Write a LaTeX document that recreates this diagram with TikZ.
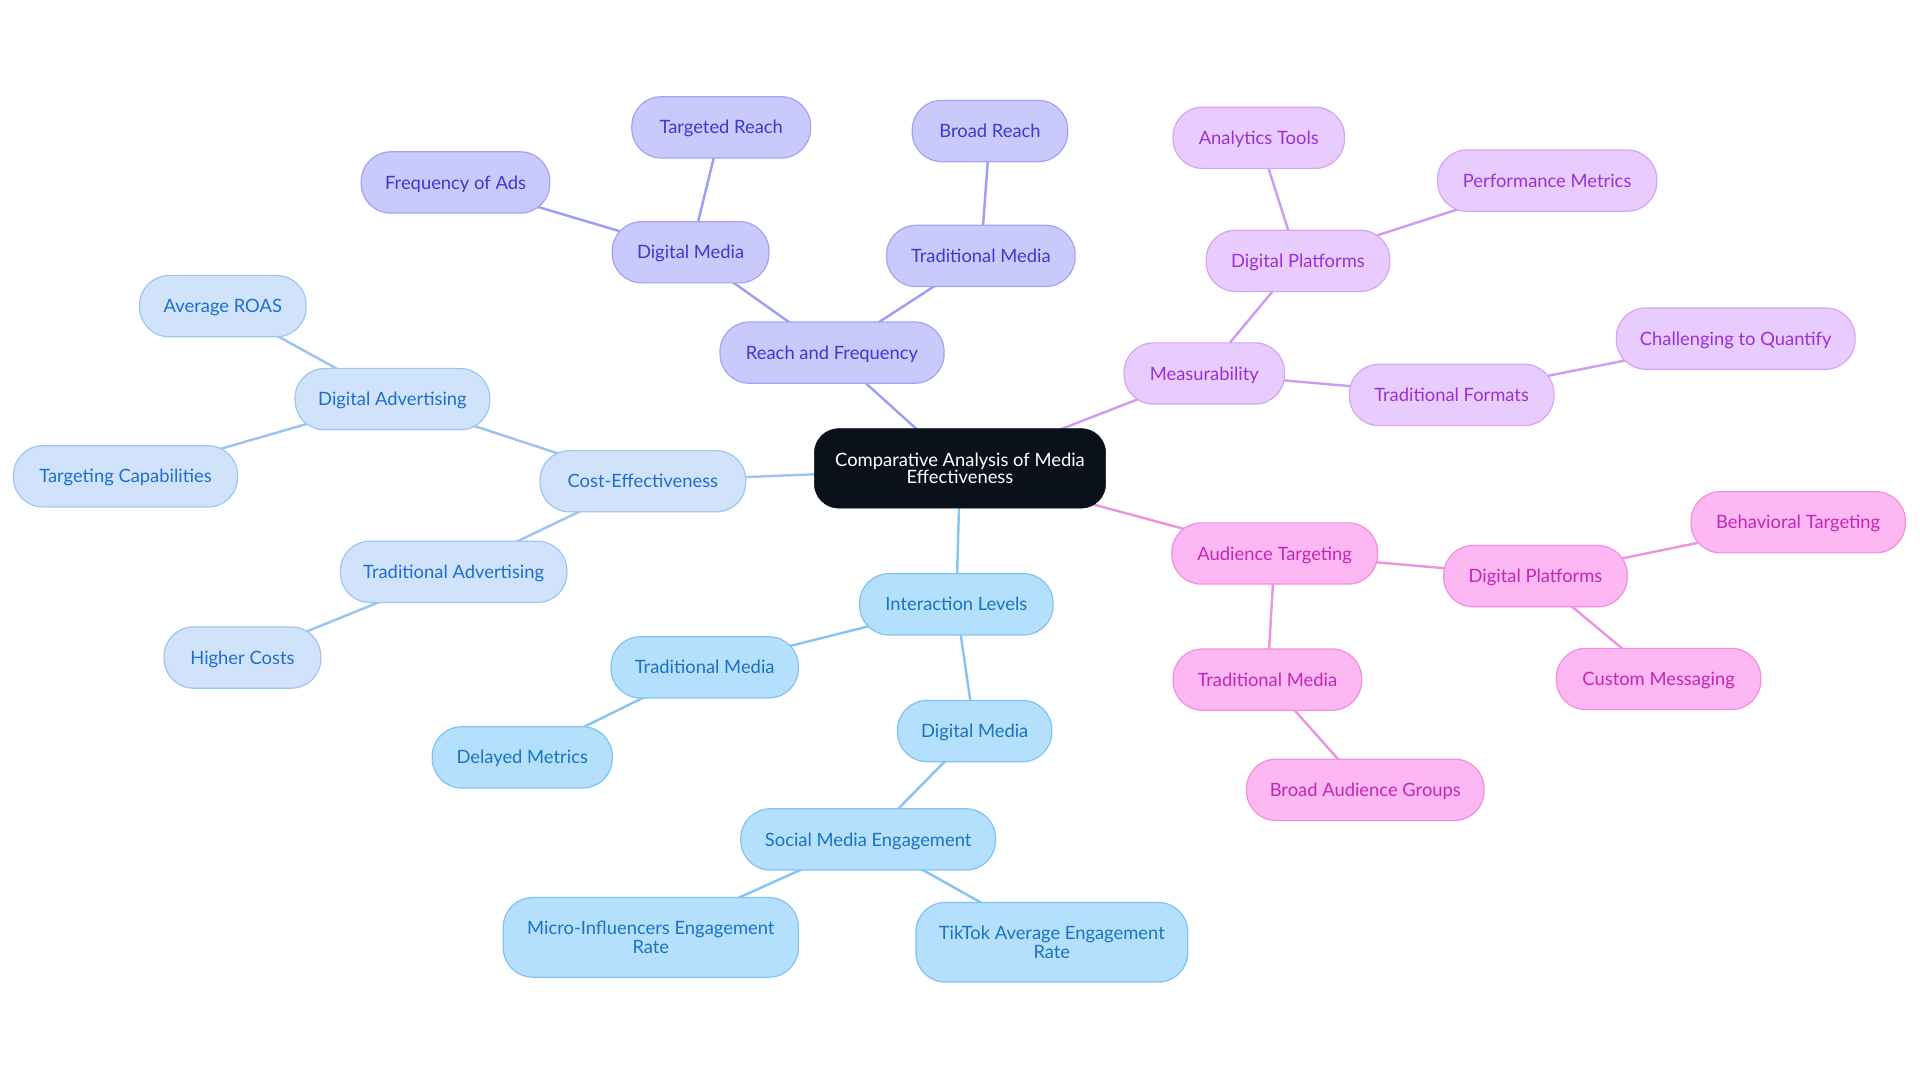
\documentclass[tikz,border=0pt]{standalone}
\usepackage{fontspec}
\setmainfont{Lato}
\usetikzlibrary{backgrounds}
\definecolor{rfFill}{HTML}{C9C9FC}\definecolor{rfDraw}{HTML}{A3A4F5}\definecolor{rfText}{HTML}{3B3BCE}\definecolor{rfEdge}{HTML}{9D9FF3}
\definecolor{msFill}{HTML}{E8CCFD}\definecolor{msDraw}{HTML}{D5A6F5}\definecolor{msText}{HTML}{9B30D9}\definecolor{msEdge}{HTML}{CF9CF1}
\definecolor{atFill}{HTML}{FDB8F3}\definecolor{atDraw}{HTML}{F190E0}\definecolor{atText}{HTML}{C525B7}\definecolor{atEdge}{HTML}{F093DF}
\definecolor{ilFill}{HTML}{B4DFFD}\definecolor{ilDraw}{HTML}{82C3F3}\definecolor{ilText}{HTML}{1B73C1}\definecolor{ilEdge}{HTML}{85C4F3}
\definecolor{ceFill}{HTML}{D0E3FB}\definecolor{ceDraw}{HTML}{A0C6F2}\definecolor{ceText}{HTML}{1F6ECF}\definecolor{ceEdge}{HTML}{9DC3EF}
\definecolor{ctFill}{HTML}{0B111A}
\tikzset{
  pillbase/.style={rectangle, rounded corners=24pt, line width=1pt, minimum height=50pt, inner sep=0pt, align=center,
    font=\fontsize{15}{15}\selectfont},
  pill/.style={pillbase, text height=10.8pt, text depth=0pt},
  rfN/.style={pill, fill=rfFill, draw=rfDraw, text=rfText},
  msN/.style={pill, fill=msFill, draw=msDraw, text=msText},
  audN/.style={pill, fill=atFill, draw=atDraw, text=atText},
  ilN/.style={pill, fill=ilFill, draw=ilDraw, text=ilText},
  ilTwo/.style={pillbase, fill=ilFill, draw=ilDraw, text=ilText, minimum height=65pt},
  ceN/.style={pill, fill=ceFill, draw=ceDraw, text=ceText},
  ctrN/.style={rectangle, rounded corners=20pt, fill=ctFill, draw=ctFill, text=white, minimum width=238pt, minimum height=65pt,
    inner sep=0pt, align=center, font=\fontsize{15}{14.5}\selectfont},
  rfE/.style={draw=rfEdge, line width=2pt},
  msE/.style={draw=msEdge, line width=2pt},
  audE/.style={draw=atEdge, line width=2pt},
  ilE/.style={draw=ilEdge, line width=2pt},
  ceE/.style={draw=ceEdge, line width=2pt},
}
\begin{document}
\begin{tikzpicture}[x=1pt,y=-1pt]
\useasboundingbox (0,0) rectangle (1568,884.45);
% center
\node[ctrN] (c) at (784,382.5) {Comparative Analysis of Media\\Effectiveness};
% reach and frequency
\node[rfN, minimum width=183pt] (rf) at (679.5,288) {Reach and Frequency};
\node[rfN, minimum width=128pt] (rfdm) at (564,206) {Digital Media};
\node[rfN, minimum width=154pt] (rftm) at (801,209) {Traditional Media};
\node[rfN, minimum width=146pt] (rftr) at (589,104) {Targeted Reach};
\node[rfN, minimum width=154pt] (rffa) at (372,149) {Frequency of Ads};
\node[rfN, minimum width=127pt] (rfbr) at (808.5,107) {Broad Reach};
% measurability
\node[msN, minimum width=131pt] (ms) at (983.5,305) {Measurability};
\node[msN, minimum width=150pt] (msdp) at (1060,213) {Digital Platforms};
\node[msN, minimum width=140pt] (msat) at (1028,112.5) {Analytics Tools};
\node[msN, minimum width=179pt] (mspm) at (1263.5,147.5) {Performance Metrics};
\node[msN, minimum width=167pt] (mstf) at (1185.5,322.5) {Traditional Formats};
\node[msN, minimum width=195pt] (mscq) at (1417.5,276.5) {Challenging to Quantify};
% audience targeting
\node[audN, minimum width=168pt] (aud) at (1041,452) {Audience Targeting};
\node[audN, minimum width=150pt] (auddp) at (1254,470.5) {Digital Platforms};
\node[audN, minimum width=175pt] (audbt) at (1468.5,426.5) {Behavioral Targeting};
\node[audN, minimum width=167pt] (audcm) at (1354.5,554.5) {Custom Messaging};
\node[audN, minimum width=154pt] (audtm) at (1035,555) {Traditional Media};
\node[audN, minimum width=194pt] (audba) at (1115,645) {Broad Audience Groups};
% interaction levels
\node[ilN, minimum width=158pt] (il) at (781,493.5) {Interaction Levels};
\node[ilN, minimum width=153pt] (iltm) at (575.5,545) {Traditional Media};
\node[ilN, minimum width=147pt] (ildm2) at (426.5,618.5) {Delayed Metrics};
\node[ilN, minimum width=126pt] (ildm) at (796,597) {Digital Media};
\node[ilN, minimum width=208pt] (ilsm) at (709,685.5) {Social Media Engagement};
\node[ilTwo, minimum width=241pt] (ilmi) at (531.5,765.5) {Micro-Influencers Engagement\\Rate};
\node[ilTwo, minimum width=222pt] (iltt) at (859,769.5) {TikTok Average Engagement\\Rate};
% cost-effectiveness
\node[ceN, minimum width=168pt] (ce) at (525,393) {Cost-Effectiveness};
\node[ceN, minimum width=159pt] (ceda) at (320.5,326) {Digital Advertising};
\node[ceN, minimum width=136pt] (ceroas) at (182,250) {Average ROAS};
\node[ceN, minimum width=183pt] (cetc) at (102.5,389) {Targeting Capabilities};
\node[ceN, minimum width=185pt] (ceta) at (370.5,467) {Traditional Advertising};
\node[ceN, minimum width=128pt] (cehc) at (198,537) {Higher Costs};
\begin{scope}[on background layer]
\draw[rfE] (c.center) -- (rf.center); \draw[rfE] (rf.center) -- (rfdm.center); \draw[rfE] (rf.center) -- (rftm.center);
\draw[rfE] (rfdm.center) -- (rftr.center); \draw[rfE] (rfdm.center) -- (rffa.center); \draw[rfE] (rftm.center) -- (rfbr.center);
\draw[msE] (c.center) -- (ms.center); \draw[msE] (ms.center) -- (msdp.center); \draw[msE] (ms.center) -- (mstf.center);
\draw[msE] (msdp.center) -- (msat.center); \draw[msE] (msdp.center) -- (mspm.center); \draw[msE] (mstf.center) -- (mscq.center);
\draw[audE] (c.center) -- (aud.center); \draw[audE] (aud.center) -- (auddp.center); \draw[audE] (aud.center) -- (audtm.center);
\draw[audE] (auddp.center) -- (audbt.center); \draw[audE] (auddp.center) -- (audcm.center); \draw[audE] (audtm.center) -- (audba.center);
\draw[ilE] (c.center) -- (il.center); \draw[ilE] (il.center) -- (iltm.center); \draw[ilE] (il.center) -- (ildm.center);
\draw[ilE] (iltm.center) -- (ildm2.center); \draw[ilE] (ildm.center) -- (ilsm.center); \draw[ilE] (ilsm.center) -- (ilmi.center); \draw[ilE] (ilsm.center) -- (iltt.center);
\draw[ceE] (c.center) -- (ce.center); \draw[ceE] (ce.center) -- (ceda.center); \draw[ceE] (ce.center) -- (ceta.center);
\draw[ceE] (ceda.center) -- (ceroas.center); \draw[ceE] (ceda.center) -- (cetc.center); \draw[ceE] (ceta.center) -- (cehc.center);
\end{scope}
\end{tikzpicture}
\end{document}
